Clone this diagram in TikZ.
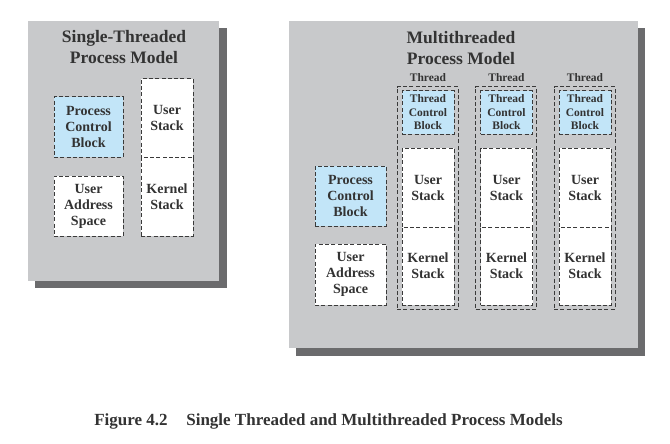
\documentclass[tikz,border=0pt]{standalone}
\usepackage{fontspec}
\setmainfont{Liberation Serif}
\definecolor{panelc}{HTML}{C8C9CB}
\definecolor{shadowc}{HTML}{6B6B6D}
\definecolor{pblue}{HTML}{C2E5F8}
\definecolor{ink}{HTML}{333333}
\definecolor{dashc}{HTML}{3A3A3A}
\tikzset{
  dbox/.style={draw=dashc, dash pattern=on 4pt off 2.3pt, line width=1pt, inner sep=0pt, outer sep=0pt,
    font=\fontsize{14}{16}\selectfont\bfseries, text=ink, align=center},
  wbox/.style={dbox, fill=white},
  bbox/.style={dbox, fill=pblue},
  tcb/.style={dbox, fill=pblue, font=\fontsize{11.5}{13.5}\selectfont\bfseries},
  tbox/.style={draw=dashc, dash pattern=on 4pt off 2.3pt, line width=1pt, inner sep=0pt, minimum width=61pt, minimum height=222pt},
  ttl/.style={font=\fontsize{17.5}{21}\selectfont\bfseries, text=ink, align=center, inner sep=0pt},
  tlab/.style={font=\fontsize{11.5}{13}\selectfont\bfseries, text=ink, inner sep=0pt},
}
\begin{document}
\begin{tikzpicture}[x=1pt,y=-1pt]
\useasboundingbox (0,0) rectangle (670,444);
\fill[white] (0,0) rectangle (670,444);
% left panel
\fill[shadowc] (35,28) rectangle (227,288);
\fill[panelc] (28,21) rectangle (219,281);
% right panel
\fill[shadowc] (296,28) rectangle (645,356);
\fill[panelc] (289,21) rectangle (638,348);

% left content
\node[ttl] (t1) at (124,47.5) {Single-Threaded\\Process Model};
\node[bbox, minimum width=69pt, minimum height=60pt] (pcb1) at (88.5,127) {Process\\Control\\Block};
\node[wbox, minimum width=69pt, minimum height=60pt] (uas1) at (88.5,206) {User\\Address\\Space};
\node[wbox, minimum width=52pt, minimum height=78pt] (us1) at (167,118) {User\\Stack};
\node[wbox, minimum width=52pt, minimum height=79pt] (ks1) at (167,196.5) {Kernel\\Stack};

% right content
\node[ttl] (t2) at (461,48) {Multithreaded\\Process Model};
\node[bbox, minimum width=71pt, minimum height=60pt] (pcb2) at (350.5,196) {Process\\Control\\Block};
\node[wbox, minimum width=71pt, minimum height=61pt] (uas2) at (350.5,274.5) {User\\Address\\Space};

\foreach \i in {0,1,2}{
  \pgfmathsetmacro{\cx}{428+78.5*\i}
  \node[tbox] (th\i) at (\cx-0.5,198) {};
  \node[tlab] (tl\i) at (\cx,78) {Thread};
  \node[tcb, minimum width=52pt, minimum height=43pt] (tcb\i) at (\cx,112.5) {Thread\\Control\\Block};
  \node[wbox, minimum width=52pt, minimum height=79pt] (us\i) at (\cx,187.5) {User\\Stack};
  \node[wbox, minimum width=52pt, minimum height=78pt] (ks\i) at (\cx,266) {Kernel\\Stack};
}

% caption
\node[font=\fontsize{17}{20}\selectfont\bfseries, text=ink, inner sep=0pt] (cap) at (328.5,421) {Figure 4.2\hspace{1.1em}Single Threaded and Multithreaded Process Models};
\end{tikzpicture}
\end{document}
